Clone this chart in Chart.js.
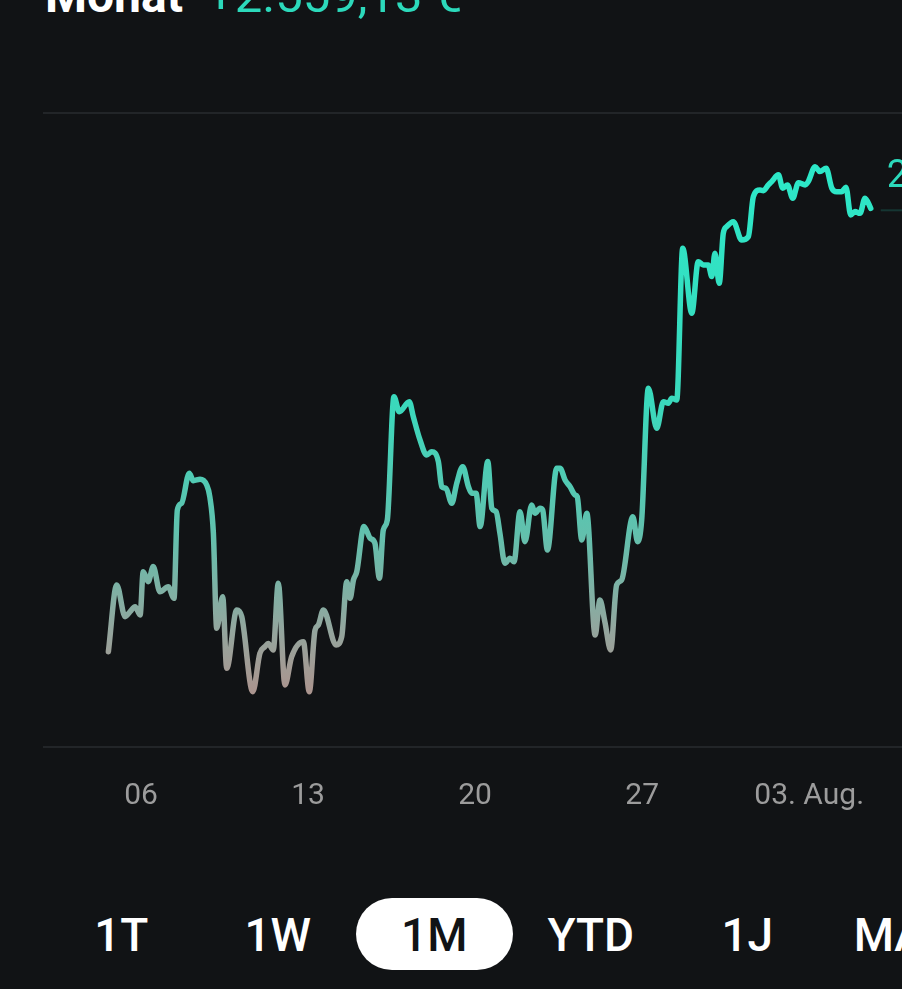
<!DOCTYPE html>
<html>
<head>
<meta charset="utf-8">
<script src="https://cdn.jsdelivr.net/npm/chart.js@4.4.1/dist/chart.umd.min.js"></script>
<style>
  html, body { margin: 0; padding: 0; background: #111315; overflow: hidden; }
  body { width: 902px; height: 989px; position: relative; font-family: Roboto, "Noto Sans", sans-serif; }
  .header { position: absolute; left: 45px; top: -28px; font-size: 48px; line-height: 48px; white-space: nowrap; }
  .header .label { color: #ffffff; font-weight: 700; }
  .header .gain { color: #2cd9bb; margin-left: 24px; font-size: 49px; }
  .chart-wrap { position: absolute; left: 0; top: 0; width: 902px; height: 830px; }
  .ranges { position: absolute; left: 43px; top: 898px; height: 72px; display: flex; }
  .ranges div { width: 156.5px; height: 72px; line-height: 74px; text-align: center; color: #ffffff;
    font-size: 46px; font-weight: 500; flex: none; }
  .ranges div.active { background: #ffffff; color: #111315; border-radius: 36px; }
</style>
</head>
<body>
<div class="header"><span class="label">Monat</span><span class="gain">+2.559,13 €</span></div>
<div class="chart-wrap"><canvas id="lineChart"></canvas></div>
<div class="ranges">
  <div>1T</div><div>1W</div><div class="active">1M</div><div>YTD</div><div>1J</div><div>MAX</div>
</div>
<script>
// day of the period (1 = 1 July) and change in € since the start
const days = [
  4.63, 4.98, 5.33, 5.54, 5.75, 5.96, 6.09, 6.30, 6.51, 6.79, 7.14, 7.38, 7.52, 7.70, 8.02, 8.19,
  8.47, 8.75, 8.88, 9.03, 9.17, 9.42, 9.59, 10.01, 10.22, 10.68, 10.98, 11.19, 11.33, 11.54, 11.75,
  12.03, 12.31, 12.80, 13.05, 13.29, 13.43, 13.64, 14.17, 14.41, 14.62, 14.76, 14.90, 15.04, 15.34,
  15.60, 15.80, 15.99, 16.15, 16.32, 16.60, 16.82, 17.24, 17.41, 17.69, 17.97, 18.18, 18.46, 18.60,
  18.78, 19.02, 19.23, 19.48, 19.72, 19.86, 20.04, 20.21, 20.53, 20.70, 20.88, 21.04, 21.25, 21.46,
  21.63, 21.88, 22.09, 22.37, 22.51, 22.72, 22.83, 23.03, 23.42, 23.56, 23.77, 23.98, 24.19, 24.28,
  24.47, 24.68, 25.03, 25.23, 25.44, 25.68, 25.93, 26.14, 26.61, 26.81, 26.98, 27.26, 27.61, 27.89,
  28.10, 28.24, 28.45, 28.70, 29.08, 29.35, 29.56, 29.77, 29.92, 30.05, 30.23, 30.40, 30.54, 30.82,
  31.17, 31.45, 31.66, 31.94, 32.08, 32.29, 32.43, 32.71, 32.89, 33.09, 33.31, 33.55, 33.83, 33.96,
  34.25, 34.45, 34.71, 34.95, 35.15, 35.36, 35.54, 35.74, 35.92, 36.13, 36.34, 36.58
];
const gains = [
  0, 385, 202, 231, 260, 212, 462, 404, 491, 346, 375, 308, 818, 857, 1030, 987,
  995, 962, 895, 685, 135, 317, -96, 241, 202, -231, -9, 29, 48, 10, 395,
  -192, -29, 58, -231, 125, 154, 241, 39, 87, 404, 308, 414, 462, 722,
  655, 626, 424, 702, 760, 1472, 1385, 1443, 1356, 1222, 1135, 1154, 1097, 952,
  943, 857, 972, 1068, 952, 914, 914, 722, 1097, 828, 808, 683, 510, 539,
  519, 808, 635, 847, 799, 828, 818, 587, 1059, 1059, 991, 952, 904, 895,
  645, 799, 96, 298, 171, 10, 385, 414, 779, 635, 760, 1520, 1289, 1443,
  1434, 1463, 1453, 2328, 1953, 2251, 2232, 2232, 2165, 2300, 2126, 2415, 2453, 2482,
  2376, 2395, 2626, 2665, 2661, 2694, 2713, 2752, 2675, 2694, 2617, 2707, 2694, 2713,
  2799, 2771, 2790, 2675, 2655, 2655, 2681, 2521, 2540, 2530, 2617, 2559
];
const tickDays = [6, 13, 20, 27, 34];
const tickLabels = ['06', '13', '20', '27', '03. Aug.'];
const endLabel = '2.559,13 €';

const yMin = -550, yMax = 3109;

// teal on top fading to a warm grey at the lows
function lineGradient(context) {
  const chart = context.chart;
  const area = chart.chartArea;
  if (!area) return '#2ee6c6';
  const y = chart.scales.y;
  const top = y.getPixelForValue(Math.max(...gains));
  const bottom = y.getPixelForValue(Math.min(...gains));
  const g = chart.ctx.createLinearGradient(0, top, 0, bottom);
  g.addColorStop(0, '#2ce8c8');
  g.addColorStop(0.45, '#3ad9bc');
  g.addColorStop(0.7, '#62c0ad');
  g.addColorStop(0.88, '#93a69e');
  g.addColorStop(1, '#ab958f');
  return g;
}

const endMarker = {
  id: 'endMarker',
  afterDatasetsDraw(chart) {
    const pts = chart.getDatasetMeta(0).data;
    const last = pts[pts.length - 1];
    const ctx = chart.ctx;
    ctx.save();
    ctx.strokeStyle = 'rgba(44, 217, 187, 0.18)';
    ctx.lineWidth = 2;
    ctx.beginPath();
    ctx.moveTo(last.x + 10, last.y + 2);
    ctx.lineTo(chart.width, last.y + 2);
    ctx.stroke();
    ctx.fillStyle = '#2cd9bb';
    ctx.font = '38px Roboto, sans-serif';
    ctx.textBaseline = 'middle';
    ctx.fillText(endLabel, last.x + 16, last.y - 31);
    ctx.restore();
  }
};

new Chart(document.getElementById('lineChart'), {
  type: 'line',
  data: {
    datasets: [{
      data: days.map((d, i) => ({ x: d, y: gains[i] })),
      borderColor: lineGradient,
      borderWidth: 5.5,
      pointRadius: 0,
      fill: false,
      cubicInterpolationMode: 'monotone',
      borderCapStyle: 'round',
      borderJoinStyle: 'round'
    }]
  },
  options: {
    responsive: true,
    maintainAspectRatio: false,
    animation: false,
    layout: { padding: { top: 113, left: 43, right: 0, bottom: 0 } },
    plugins: { legend: { display: false }, tooltip: { enabled: false } },
    scales: {
      x: {
        type: 'linear',
        min: 1.89,
        max: 37.89,
        afterBuildTicks(axis) { axis.ticks = tickDays.map(v => ({ value: v })); },
        afterFit(axis) { axis.height = 83; },
        ticks: {
          autoSkip: false,
          maxRotation: 0,
          padding: 23,
          color: '#9c9c9c',
          font: { family: 'Roboto', size: 30 },
          callback: (value) => tickLabels[tickDays.indexOf(value)]
        },
        grid: { display: false },
        border: { display: false }
      },
      y: {
        min: yMin,
        max: yMax,
        afterBuildTicks(axis) { axis.ticks = [{ value: yMin }, { value: yMax }]; },
        ticks: { display: false },
        grid: { color: '#222528', lineWidth: 2, drawTicks: false },
        border: { display: false }
      }
    }
  },
  plugins: [endMarker]
});
</script>
</body>
</html>
